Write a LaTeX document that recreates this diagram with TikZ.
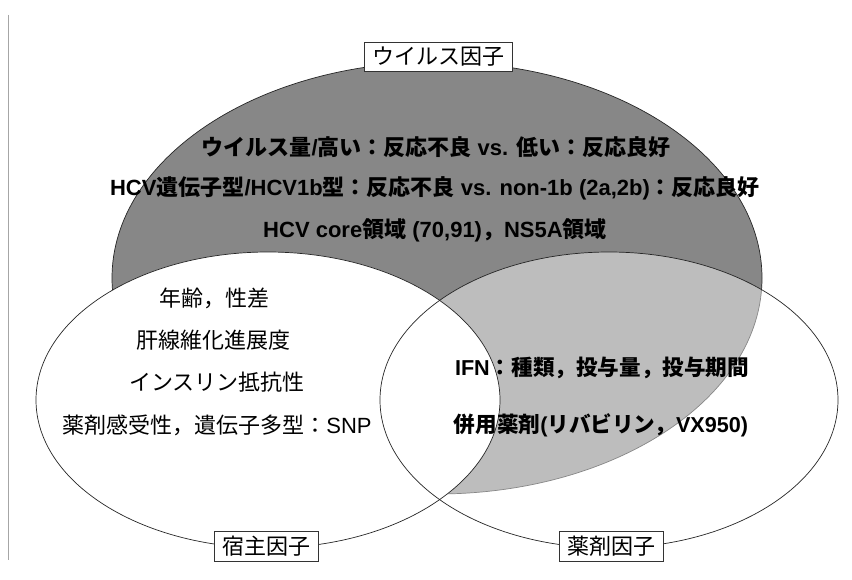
\documentclass[tikz,border=0pt]{standalone}
\usepackage{fontspec}
\setmainfont{Noto Sans CJK JP}
\newfontfamily\latfont{Liberation Sans}
\newcommand\latxt[1]{{\latfont #1}}
\begin{document}
\begin{tikzpicture}[x=1pt,y=-1pt,
  lbl/.style={draw=black!80,fill=white,line width=0.6pt,inner xsep=8pt,inner ysep=5pt,font=\fontsize{22}{26}\selectfont},
  txt/.style={inner sep=0pt,anchor=center},
  vtxt/.style={txt,font=\fontsize{22}{26}\selectfont\bfseries},
  htxt/.style={txt,font=\fontsize{22}{26}\selectfont},
  dtxt/.style={txt,font=\fontsize{21.6}{26}\selectfont\bfseries},
  edge/.style={draw=black!85,line width=0.7pt}]
\useasboundingbox (0,0) rectangle (852,580);
\fill[white] (0,0) rectangle (852,580);
\draw[black!35,line width=0.6pt] (8,15) -- (8,560);
% virus ellipse
\fill[black!47] (437,278) ellipse [x radius=325, y radius=216];
\draw[edge] (437,278) ellipse [x radius=325, y radius=216];
% drug ellipse (translucent)
\fill[white,fill opacity=0.45] (609,400) ellipse [x radius=229, y radius=148];
% host ellipse
\fill[white] (268,400) ellipse [x radius=232, y radius=148];
\draw[edge] (268,400) ellipse [x radius=232, y radius=148];
\draw[edge] (609,400) ellipse [x radius=229, y radius=148];
% texts virus
\node[vtxt] (v1) at (436,147) {ウイルス量\latxt{/}高い：反応不良\latxt{ vs. }低い：反応良好};
\node[vtxt] (v2) at (435,188) {\latxt{HCV}遺伝子型\latxt{/HCV1b}型：反応不良\latxt{ vs. non-1b (2a,2b)}：反応良好};
\node[vtxt] (v3) at (435,230) {\latxt{HCV core}領域\latxt{ (70,91)}，\latxt{NS5A}領域};
% host texts
\node[htxt] (h1) at (214,298) {年齢，性差};
\node[htxt] (h2) at (213,340) {肝線維化進展度};
\node[htxt] (h3) at (217,382) {インスリン抵抗性};
\node[htxt] (h4) at (217,425) {薬剤感受性，遺伝子多型：\latxt{SNP}};
% drug texts
\node[dtxt] (d1) at (602,368) {\latxt{IFN}：種類，投与量，投与期間};
\node[dtxt] (d2) at (601,425) {併用薬剤\latxt{(}リバビリン，\latxt{VX950)}};
% labels
\node[lbl] (lv) at (438,57) {ウイルス因子};
\node[lbl] (lh) at (266,546) {宿主因子};
\node[lbl] (ld) at (611,546) {薬剤因子};
\end{tikzpicture}
\end{document}
